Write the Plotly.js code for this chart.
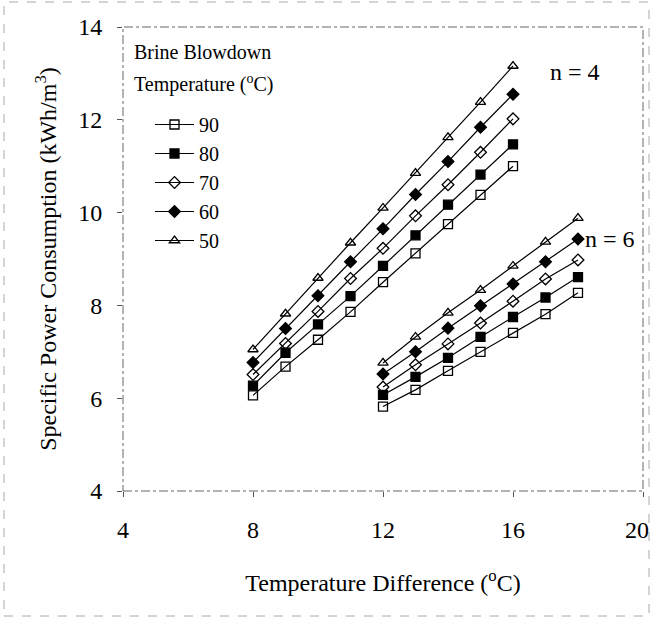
<!DOCTYPE html>
<html>
<head>
<meta charset="utf-8">
<script src="https://cdn.plot.ly/plotly-3.0.1.min.js"></script>
<style>html,body{margin:0;padding:0;background:#fff;}#chart{width:652px;height:619px;}</style>
</head>
<body>
<div id="chart"></div>
<script>
// Temperature difference (°C) for n = 4 and n = 6 stages
const xN4 = [8, 9, 10, 11, 12, 13, 14, 15, 16];
const xN6 = [12, 13, 14, 15, 16, 17, 18];

// Brine blowdown temperatures (°C)
const temps = ["90", "80", "70", "60", "50"];

// Axis ticks
const xTicks = [4, 8, 12, 16, 20];
const xTickText = ["4", "8", "12", "16", ""];
const yTicks = [4, 6, 8, 10, 12, 14];

// Specific power consumption (kWh/m3), n = 4
const n4_90 = [6.06, 6.68, 7.26, 7.86, 8.50, 9.12, 9.75, 10.38, 11.00];
const n4_80 = [6.27, 6.98, 7.59, 8.20, 8.85, 9.51, 10.17, 10.82, 11.47];
const n4_70 = [6.51, 7.18, 7.87, 8.58, 9.23, 9.93, 10.60, 11.30, 12.02];
const n4_60 = [6.77, 7.50, 8.21, 8.94, 9.65, 10.39, 11.10, 11.84, 12.55];
const n4_50 = [7.05, 7.82, 8.59, 9.35, 10.10, 10.85, 11.62, 12.38, 13.16];

// Specific power consumption (kWh/m3), n = 6
const n6_90 = [5.82, 6.18, 6.59, 7.00, 7.41, 7.81, 8.27];
const n6_80 = [6.07, 6.46, 6.87, 7.32, 7.75, 8.17, 8.61];
const n6_70 = [6.24, 6.72, 7.17, 7.62, 8.09, 8.57, 8.98];
const n6_60 = [6.52, 7.00, 7.51, 7.99, 8.46, 8.94, 9.43];
const n6_50 = [6.76, 7.32, 7.84, 8.33, 8.85, 9.37, 9.88];

const n4 = [n4_90, n4_80, n4_70, n4_60, n4_50];
const n6 = [n6_90, n6_80, n6_70, n6_60, n6_50];
const symbols = ["square-open", "square", "diamond-open", "diamond", "triangle-up-open"];

const serif = "Liberation Serif, Times New Roman, serif";

const traces = temps.map((t, i) => ({
  type: "scatter",
  mode: "lines+markers",
  name: t,
  x: xN4.concat([null], xN6),
  y: n4[i].concat([null], n6[i]),
  connectgaps: false,
  line: {color: "#000", width: 1.2},
  marker: {symbol: symbols[i], size: 9, color: "#000", line: {color: "#000", width: 1.3}},
  cliponaxis: false
}));

const L = 123, R = 643, T = 27, B = 491;
const pw = R - L, ph = B - T;
function px(xp) { return (xp - L) / pw; }
function py(yp) { return (B - yp) / ph; }

const layout = {
  width: 652, height: 619,
  margin: {l: L, r: 652 - R, t: T, b: 619 - B, pad: 0},
  paper_bgcolor: "#fff",
  plot_bgcolor: "#fff",
  font: {family: serif, color: "#000", size: 24},
  showlegend: true,
  legend: {
    x: px(150), y: py(105), xanchor: "left", yanchor: "top",
    bgcolor: "rgba(0,0,0,0)", borderwidth: 0,
    font: {family: serif, size: 20, color: "#000"},
    itemwidth: 39,
    tracegroupgap: 0
  },
  xaxis: {
    range: [4, 20], tickvals: xTicks, ticktext: xTickText,
    ticks: "outside", ticklen: 5, tickcolor: "#555", showline: false, showgrid: false, zeroline: false,
    ticklabelstandoff: 12,
    tickfont: {family: serif, size: 24},
    title: {text: "Temperature Difference (<sup>o</sup>C)", font: {family: serif, size: 24}, standoff: 32}
  },
  yaxis: {
    range: [4, 14], tickvals: yTicks,
    ticks: "outside", ticklen: 5, tickcolor: "#555", showline: false, showgrid: false, zeroline: false,
    ticklabelstandoff: 10,
    tickfont: {family: serif, size: 24},
    title: {text: "Specific Power Consumption (kWh/m<sup>3</sup>)", font: {family: serif, size: 24}, standoff: 14}
  },
  shapes: [
    {type: "rect", xref: "paper", yref: "paper", x0: 0, x1: 1, y0: 0, y1: 1,
     line: {color: "#666", width: 1, dash: "dashdot"}, layer: "below"},
    {type: "rect", xref: "paper", yref: "paper", x0: px(4), x1: px(649), y0: py(616), y1: py(2),
     line: {color: "#aaa", width: 1, dash: "dash"}, layer: "below"}
  ],
  annotations: [
    {xref: "paper", yref: "paper", x: px(132), y: py(52), xanchor: "left", yanchor: "middle",
     text: "Brine Blowdown", showarrow: false, font: {family: serif, size: 20}},
    {xref: "paper", yref: "paper", x: px(132), y: py(84), xanchor: "left", yanchor: "middle",
     text: "Temperature (<sup>o</sup>C)", showarrow: false, font: {family: serif, size: 20}},
    {xref: "x", yref: "y", x: 17.9, y: 13.03, text: "n = 4", showarrow: false,
     font: {family: serif, size: 24}},
    {xref: "x", yref: "y", x: 18.15, y: 9.43, xanchor: "left", text: "n = 6", showarrow: false,
     font: {family: serif, size: 24}},
    {xref: "paper", yref: "paper", x: px(651), y: py(530), xanchor: "right", yanchor: "middle",
     text: "20", showarrow: false, font: {family: serif, size: 24}}
  ]
};

Plotly.newPlot("chart", traces, layout, {staticPlot: true, displayModeBar: false});
</script>
</body>
</html>
